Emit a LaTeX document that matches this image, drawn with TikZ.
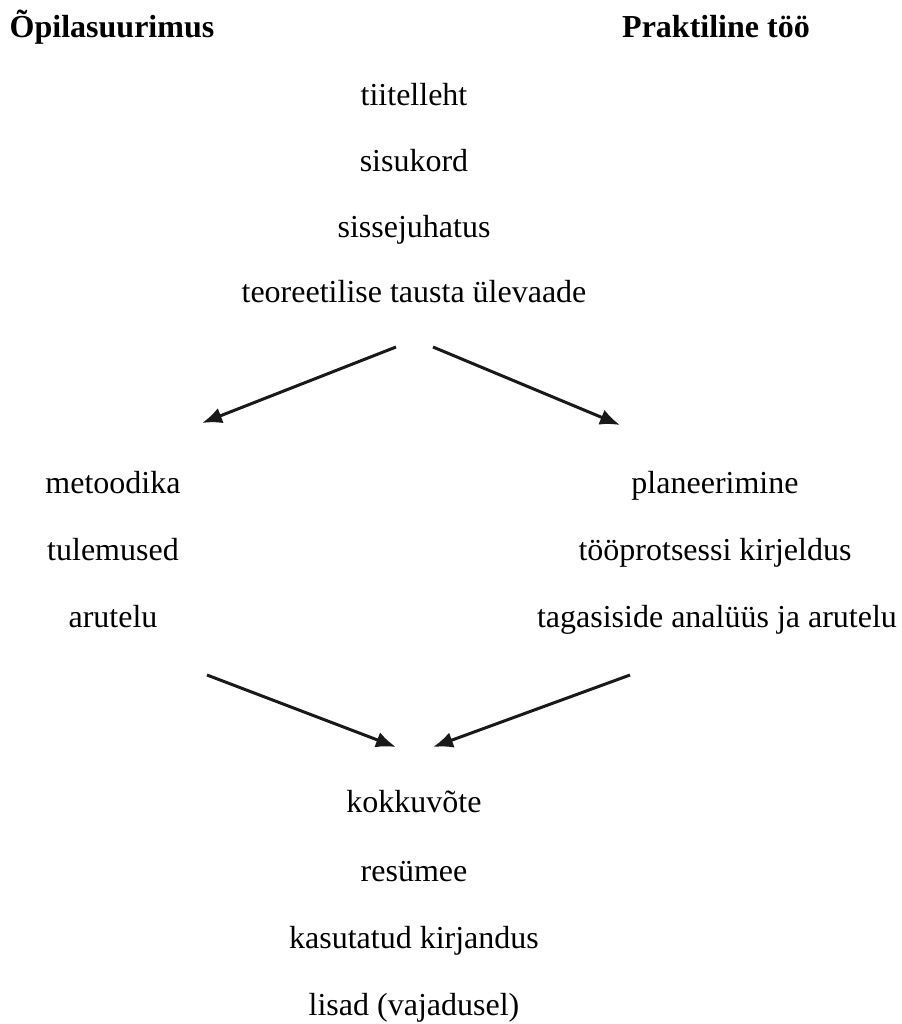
\documentclass[tikz,border=0pt]{standalone}
\usepackage{fontspec}
\setmainfont{Liberation Serif}
\usetikzlibrary{arrows.meta}
\tikzset{
  lbl/.style={anchor=base, inner sep=0pt, font=\fontsize{16}{19}\selectfont},
  hdr/.style={lbl, font=\fontsize{16}{19}\selectfont\bfseries},
  arr/.style={draw=black!90, line width=1.5pt, -{Latex[length=10pt,width=8pt]}}
}
\begin{document}
\begin{tikzpicture}[x=0.5pt,y=-0.5pt]
\useasboundingbox (0,0) rectangle (901,1024);
\node[hdr] (h1) at (112,37) {Õpilasuurimus};
\node[hdr] (h2) at (716,37) {Praktiline töö};
\node[lbl] (t1) at (414,105) {tiitelleht};
\node[lbl] (t2) at (414,171) {sisukord};
\node[lbl] (t3) at (414,237) {sissejuhatus};
\node[lbl] (t4) at (414,302) {teoreetilise tausta ülevaade};
\node[lbl] (l1) at (113,493) {metoodika};
\node[lbl] (l2) at (113,560) {tulemused};
\node[lbl] (l3) at (113,627) {arutelu};
\node[lbl] (r1) at (715,493) {planeerimine};
\node[lbl] (r2) at (715,560) {tööprotsessi kirjeldus};
\node[lbl] (r3) at (717,627) {tagasiside analüüs ja arutelu};
\node[lbl] (b1) at (414,812) {kokkuvõte};
\node[lbl] (b2) at (414,881) {resümee};
\node[lbl] (b3) at (414,948) {kasutatud kirjandus};
\node[lbl] (b4) at (414,1015) {lisad (vajadusel)};
\coordinate (a1s) at (396,347);
\coordinate (a1e) at (202,423);
\coordinate (a2s) at (433,347);
\coordinate (a2e) at (620,425);
\coordinate (a3s) at (207,675);
\coordinate (a3e) at (396,747);
\coordinate (a4s) at (630,675);
\coordinate (a4e) at (433,747);
\draw[arr] (a1s) -- (a1e);
\draw[arr] (a2s) -- (a2e);
\draw[arr] (a3s) -- (a3e);
\draw[arr] (a4s) -- (a4e);
\end{tikzpicture}
\end{document}
